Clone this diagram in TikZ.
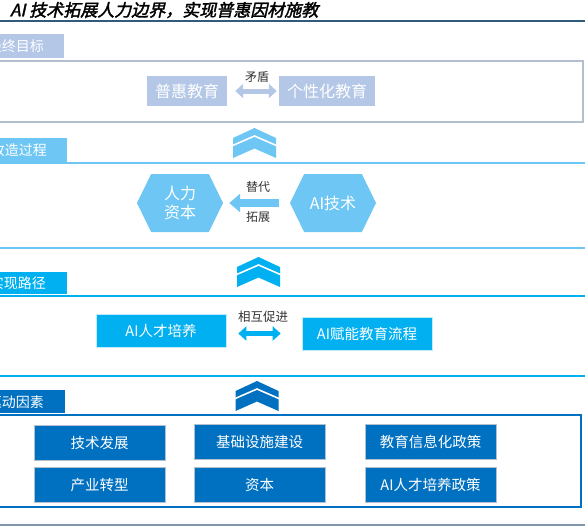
\documentclass[tikz,border=0pt]{standalone}
\usepackage{fontspec}
\setmainfont{Noto Sans CJK SC}
\newfontfamily\titlefont[FakeSlant=0.22,FakeBold=2]{Noto Sans CJK SC}
\usepackage{tikz}
\usetikzlibrary{arrows.meta,positioning,shapes.symbols}
\definecolor{sgpale}{HTML}{B4C7E7}
\definecolor{sgpalel}{HTML}{B3BECE}
\definecolor{sgsky}{HTML}{6DC6F3}
\definecolor{sgcyan}{HTML}{00B0F0}
\definecolor{sgdeep}{HTML}{0070C0}
\definecolor{sgink}{HTML}{2F5B7C}
\definecolor{sgslate}{HTML}{8096AC}
\definecolor{sgtext}{HTML}{333333}
\tikzset{
  tablbl/.style   = {anchor=east, inner sep=0pt, text=white,
                     font=\fontsize{14}{16}\selectfont},
  goalbox/.style  = {fill=sgpale, text=white, inner sep=0pt,
                     minimum height=30pt, font=\fontsize{16}{19}\selectfont},
  hexbox/.style   = {signal, signal to=east and west, signal pointer angle=128,
                     fill=sgsky, text=white, inner sep=0pt, align=center,
                     minimum width=86pt, minimum height=58pt,
                     font=\fontsize{16}{19}\selectfont},
  pathbox/.style  = {fill=sgcyan, draw=white!75!sgcyan, line width=0.6pt,
                     text=white, inner sep=0pt, minimum width=130pt,
                     minimum height=33pt, font=\fontsize{14.5}{17}\selectfont},
  factor/.style   = {fill=sgdeep, draw=sgpalel, line width=0.6pt, text=white,
                     inner sep=0pt, minimum width=131pt, minimum height=35pt,
                     font=\fontsize{14.5}{17}\selectfont},
  lbl/.style      = {text=sgtext, inner sep=0pt,
                     font=\fontsize{12}{14}\selectfont},
  dblarrow/.style = {{Triangle[length=8pt,width=14pt]}-{Triangle[length=8pt,width=14pt]},
                     line width=5pt},
  onearrow/.style = {-{Triangle[length=11pt,width=18pt]}, line width=8pt},
  pics/upchev/.style = {code={
    \fill[#1] (-21.5,10) -- (0,0) -- (21.5,10) -- (21.5,30) -- (0,20.5)
              -- (-21.5,30) -- cycle;
    \draw[white, line width=1.6pt] (-23,18) -- (0,8) -- (23,18);}},
}
\begin{document}
\begin{tikzpicture}[x=1pt, y=-1pt]
  \useasboundingbox (0,0) rectangle (585,531);

  % title and rule under it
  \node[anchor=west, inner sep=0pt, font=\titlefont\fontsize{17}{20}\selectfont]
    (title) at (10,10) {AI 技术拓展人力边界，实现普惠因材施教};
  \draw[sgink, line width=1.5pt] (0,21) -- (585,21);

  % final goal
  \fill[sgpale] (0,34) rectangle (64,58);
  \node[tablbl] (tab1) at (44,46) {最终目标};
  \draw[sgpalel, line width=1.8pt] (-3,61) rectangle (583,122);
  \node[goalbox, minimum width=80pt] (puhui) at (187,91) {普惠教育};
  \node[goalbox, minimum width=96pt] (gexing) at (327,91) {个性化教育};
  \draw[dblarrow, sgpale, shorten <=8pt, shorten >=2pt] (puhui.east) -- (gexing.west);
  \node[lbl] (maodun) at (257,77) {矛盾};

  \pic at (254.5,128) {upchev=sgsky};

  % transformation process
  \fill[sgsky] (0,138) rectangle (67,162);
  \node[tablbl] (tab2) at (47,150) {改造过程};
  \draw[sgsky, line width=2pt] (0,163) -- (585,163);
  \draw[sgsky, line width=2pt] (0,248) -- (585,248);
  \node[hexbox] (human) at (180,203) {人力\\资本};
  \node[hexbox] (aitech) at (333,203) {AI技术};
  \draw[onearrow, sgsky, shorten <=11pt, shorten >=6pt] (aitech.west) -- (human.east);
  \node[lbl] (tidai) at (258,187) {替代};
  \node[lbl] (tuozhan) at (258,217) {拓展};

  \pic at (258.5,257) {upchev=sgcyan};

  % realisation path
  \fill[sgcyan] (0,272) rectangle (67,294);
  \node[tablbl] (tab3) at (46,283) {实现路径};
  \draw[sgcyan, line width=2.5pt] (0,296) -- (585,296);
  \draw[sgcyan, line width=2.5pt] (0,376) -- (585,376);
  \node[pathbox] (talent) at (161,330.5) {AI人才培养};
  \node[pathbox] (flow) at (367,333.5) {AI赋能教育流程};
  \draw[dblarrow, sgcyan, shorten <=12pt, shorten >=21pt] (talent.east |- flow.west) -- (flow.west);
  \node[lbl, font=\fontsize{12.5}{15}\selectfont] (cujin) at (263,317) {相互促进};

  \pic at (257,381) {upchev=sgdeep};

  % driving factors
  \fill[sgdeep] (0,390) rectangle (65,413);
  \node[tablbl] (tab4) at (44,402) {驱动因素};
  \draw[sgdeep, line width=2pt] (-3,415) rectangle (581,507);
  \node[factor] (tech)   at (99.5,443)  {技术发展};
  \node[factor] (infra)  at (259.5,442) {基础设施建设};
  \node[factor] (policy) at (430.5,442) {教育信息化政策};
  \node[factor] (indus)  at (99.5,485)  {产业转型};
  \node[factor] (capital) at (259.5,485) {资本};
  \node[factor] (aipol)  at (430.5,485) {AI人才培养政策};

  \draw[sgslate, line width=2pt] (0,525) -- (585,525);

\end{tikzpicture}
\end{document}
